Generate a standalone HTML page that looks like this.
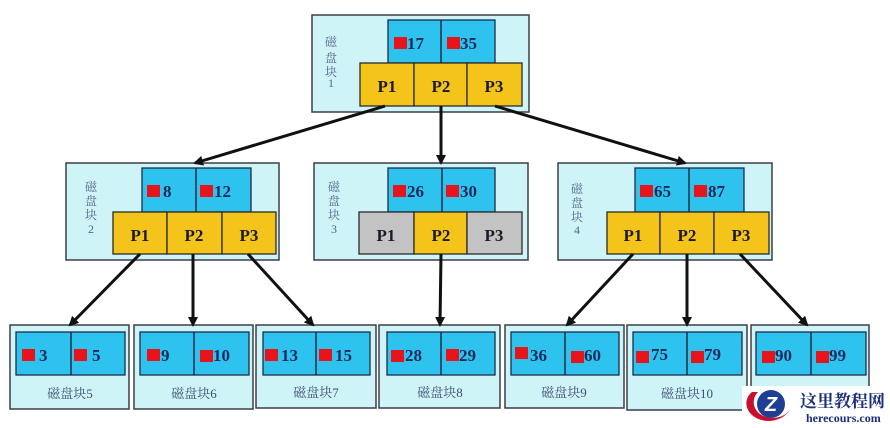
<!DOCTYPE html>
<html><head><meta charset="utf-8"><style>
html,body{margin:0;padding:0;background:#fff;}
svg{display:block;}
.o{fill:#cff4f8;stroke:#3a3f45;stroke-width:1.5;}
.k{fill:#2ec3ee;stroke:#1c2c48;stroke-width:1.3;}
.p{fill:#f5c41a;stroke:#2a2a2a;stroke-width:1.3;}
.g{fill:#c3c3c3;stroke:#2a2a2a;stroke-width:1.3;}
.d{stroke:#1c2c48;stroke-width:1.5;}
.r{fill:#e8141c;}
.n{font-family:"Liberation Serif",serif;font-weight:bold;font-size:17px;fill:#1b2a5c;}
.pl{font-family:"Liberation Serif",serif;font-weight:bold;font-size:17px;fill:#1a1a2a;text-anchor:middle;}
.v{font-family:"Liberation Serif","Noto Serif CJK SC",serif;font-size:12px;fill:#56668a;text-anchor:middle;}
.lb{font-family:"Liberation Serif","Noto Serif CJK SC",serif;font-size:13px;fill:#3e4e70;text-anchor:middle;}
.a{stroke:#111;stroke-width:3;fill:none;}
</style></head><body>
<svg width="890" height="428" viewBox="0 0 890 428" xmlns="http://www.w3.org/2000/svg">
<defs>
<marker id="ah" markerWidth="10" markerHeight="10" refX="8" refY="5" orient="auto" markerUnits="userSpaceOnUse">
<path d="M0,0 L10,5 L0,10 Z" fill="#111"/>
</marker>
</defs>

<!-- Root block 1 -->
<rect class="o" x="312" y="15" width="217" height="97"/>
<rect class="k" x="388" y="20" width="107" height="43"/>
<line class="d" x1="441" y1="20" x2="441" y2="63"/>
<rect class="p" x="360" y="63" width="54" height="43"/>
<rect class="p" x="414" y="63" width="53" height="43"/>
<rect class="p" x="467" y="63" width="55" height="43"/>
<rect class="r" x="394" y="37" width="13" height="12"/><text class="n" x="407" y="49">17</text>
<rect class="r" x="447" y="37" width="13" height="12"/><text class="n" x="460" y="49">35</text>
<text class="pl" x="387" y="92">P1</text><text class="pl" x="441" y="92">P2</text><text class="pl" x="494" y="92">P3</text>
<text class="v" x="331" y="46">磁</text><text class="v" x="331" y="62">盘</text><text class="v" x="331" y="76">块</text><text class="v" x="331" y="87">1</text>

<!-- Block 2 -->
<rect class="o" x="66" y="163" width="213" height="97"/>
<rect class="k" x="142" y="168" width="109" height="44"/>
<line class="d" x1="196" y1="168" x2="196" y2="212"/>
<rect class="p" x="113" y="212" width="54" height="42"/>
<rect class="p" x="167" y="212" width="55" height="42"/>
<rect class="p" x="222" y="212" width="54" height="42"/>
<rect class="r" x="147" y="185" width="13" height="12"/><text class="n" x="163" y="197">8</text>
<rect class="r" x="200" y="185" width="13" height="12"/><text class="n" x="214" y="197">12</text>
<text class="pl" x="140" y="241">P1</text><text class="pl" x="194" y="241">P2</text><text class="pl" x="249" y="241">P3</text>
<text class="v" x="91" y="191">磁</text><text class="v" x="91" y="205">盘</text><text class="v" x="91" y="219">块</text><text class="v" x="91" y="233">2</text>

<!-- Block 3 -->
<rect class="o" x="314" y="163" width="214" height="97"/>
<rect class="k" x="388" y="168" width="107" height="44"/>
<line class="d" x1="442" y1="168" x2="442" y2="212"/>
<rect class="g" x="359" y="212" width="55" height="42"/>
<rect class="p" x="414" y="212" width="53" height="42"/>
<rect class="g" x="467" y="212" width="55" height="42"/>
<rect class="r" x="393" y="185" width="13" height="12"/><text class="n" x="407" y="197">26</text>
<rect class="r" x="446" y="185" width="13" height="12"/><text class="n" x="460" y="197">30</text>
<text class="pl" x="386" y="241">P1</text><text class="pl" x="441" y="241">P2</text><text class="pl" x="494" y="241">P3</text>
<text class="v" x="334" y="191">磁</text><text class="v" x="334" y="205">盘</text><text class="v" x="334" y="219">块</text><text class="v" x="334" y="233">3</text>

<!-- Block 4 -->
<rect class="o" x="558" y="163" width="214" height="97"/>
<rect class="k" x="635" y="168" width="109" height="44"/>
<line class="d" x1="689" y1="168" x2="689" y2="212"/>
<rect class="p" x="607" y="212" width="53" height="42"/>
<rect class="p" x="660" y="212" width="54" height="42"/>
<rect class="p" x="714" y="212" width="55" height="42"/>
<rect class="r" x="640" y="185" width="13" height="12"/><text class="n" x="654" y="197">65</text>
<rect class="r" x="694" y="185" width="13" height="12"/><text class="n" x="708" y="197">87</text>
<text class="pl" x="633" y="241">P1</text><text class="pl" x="687" y="241">P2</text><text class="pl" x="741" y="241">P3</text>
<text class="v" x="577" y="193">磁</text><text class="v" x="577" y="207">盘</text><text class="v" x="577" y="221">块</text><text class="v" x="577" y="234">4</text>

<!-- Leaves -->
<g>
<rect class="o" x="10" y="325" width="119" height="84"/>
<rect class="k" x="16" y="332" width="109" height="43"/>
<line class="d" x1="71" y1="332" x2="71" y2="375"/>
<rect class="r" x="22" y="349" width="13" height="12"/><text class="n" x="39" y="361">3</text>
<rect class="r" x="74" y="349" width="13" height="12"/><text class="n" x="92" y="361">5</text>
<text class="lb" x="70" y="398">磁盘块5</text>

<rect class="o" x="134" y="325" width="119" height="84"/>
<rect class="k" x="140" y="332" width="109" height="43"/>
<line class="d" x1="194" y1="332" x2="194" y2="375"/>
<rect class="r" x="147" y="349" width="13" height="12"/><text class="n" x="161" y="361">9</text>
<rect class="r" x="200" y="350" width="13" height="12"/><text class="n" x="213" y="361">10</text>
<text class="lb" x="194" y="398">磁盘块6</text>

<rect class="o" x="256" y="325" width="120" height="83"/>
<rect class="k" x="263" y="332" width="107" height="43"/>
<line class="d" x1="316" y1="332" x2="316" y2="375"/>
<rect class="r" x="265" y="349" width="13" height="12"/><text class="n" x="281" y="361">13</text>
<rect class="r" x="319" y="349" width="13" height="12"/><text class="n" x="335" y="361">15</text>
<text class="lb" x="316" y="397">磁盘块7</text>

<rect class="o" x="379" y="325" width="121" height="83"/>
<rect class="k" x="387" y="332" width="108" height="43"/>
<line class="d" x1="441" y1="332" x2="441" y2="375"/>
<rect class="r" x="391" y="350" width="13" height="12"/><text class="n" x="405" y="361">28</text>
<rect class="r" x="446" y="349" width="13" height="12"/><text class="n" x="459" y="361">29</text>
<text class="lb" x="440" y="397">磁盘块8</text>

<rect class="o" x="505" y="325" width="119" height="83"/>
<rect class="k" x="511" y="332" width="108" height="43"/>
<line class="d" x1="565" y1="332" x2="565" y2="375"/>
<rect class="r" x="515" y="347" width="13" height="12"/><text class="n" x="530" y="361">36</text>
<rect class="r" x="571" y="351" width="13" height="12"/><text class="n" x="584" y="361">60</text>
<text class="lb" x="564" y="397">磁盘块9</text>

<rect class="o" x="627" y="325" width="120" height="85"/>
<rect class="k" x="633" y="332" width="109" height="43"/>
<line class="d" x1="687" y1="332" x2="687" y2="375"/>
<rect class="r" x="636" y="351" width="13" height="12"/><text class="n" x="651" y="360">75</text>
<rect class="r" x="691" y="351" width="13" height="12"/><text class="n" x="704" y="360">79</text>
<text class="lb" x="687" y="398">磁盘块10</text>

<rect class="o" x="751" y="325" width="118" height="84"/>
<rect class="k" x="756" y="332" width="110" height="43"/>
<line class="d" x1="811" y1="332" x2="811" y2="375"/>
<rect class="r" x="762" y="351" width="13" height="12"/><text class="n" x="775" y="361">90</text>
<rect class="r" x="816" y="351" width="13" height="12"/><text class="n" x="829" y="361">99</text>
</g>

<!-- Arrows -->
<line class="a" x1="385" y1="106" x2="195" y2="163" marker-end="url(#ah)"/>
<line class="a" x1="441" y1="106" x2="441" y2="163" marker-end="url(#ah)"/>
<line class="a" x1="495" y1="106" x2="685" y2="163" marker-end="url(#ah)"/>
<line class="a" x1="140" y1="254" x2="70" y2="325" marker-end="url(#ah)"/>
<line class="a" x1="193" y1="254" x2="193" y2="325" marker-end="url(#ah)"/>
<line class="a" x1="248" y1="254" x2="313" y2="325" marker-end="url(#ah)"/>
<line class="a" x1="441" y1="254" x2="440" y2="325" marker-end="url(#ah)"/>
<line class="a" x1="633" y1="254" x2="567" y2="325" marker-end="url(#ah)"/>
<line class="a" x1="687" y1="254" x2="687" y2="325" marker-end="url(#ah)"/>
<line class="a" x1="740" y1="254" x2="807" y2="325" marker-end="url(#ah)"/>

<!-- Watermark -->
<rect x="742" y="386" width="148" height="42" fill="#fff"/>
<path d="M752,392 C740,402 748,420 768,421 C778,421 786,416 790,410 C784,418 770,421 760,414 C752,408 752,398 758,392 Z" fill="#c8102e"/>
<circle cx="771" cy="404" r="14" fill="#1f3f95"/>
<text x="771" y="411" font-family="Liberation Sans,sans-serif" font-weight="bold" font-style="italic" font-size="20" fill="#fff" text-anchor="middle">Z</text>
<text x="800" y="407" font-family="'Liberation Serif','Noto Serif CJK SC',serif" font-weight="bold" font-size="17" fill="#1c2f7a">这里教程网</text>
<text x="806" y="422" font-family="'Liberation Serif',serif" font-weight="bold" font-size="12" fill="#1c2f7a">herecours.com</text>
</svg>
</body></html>
